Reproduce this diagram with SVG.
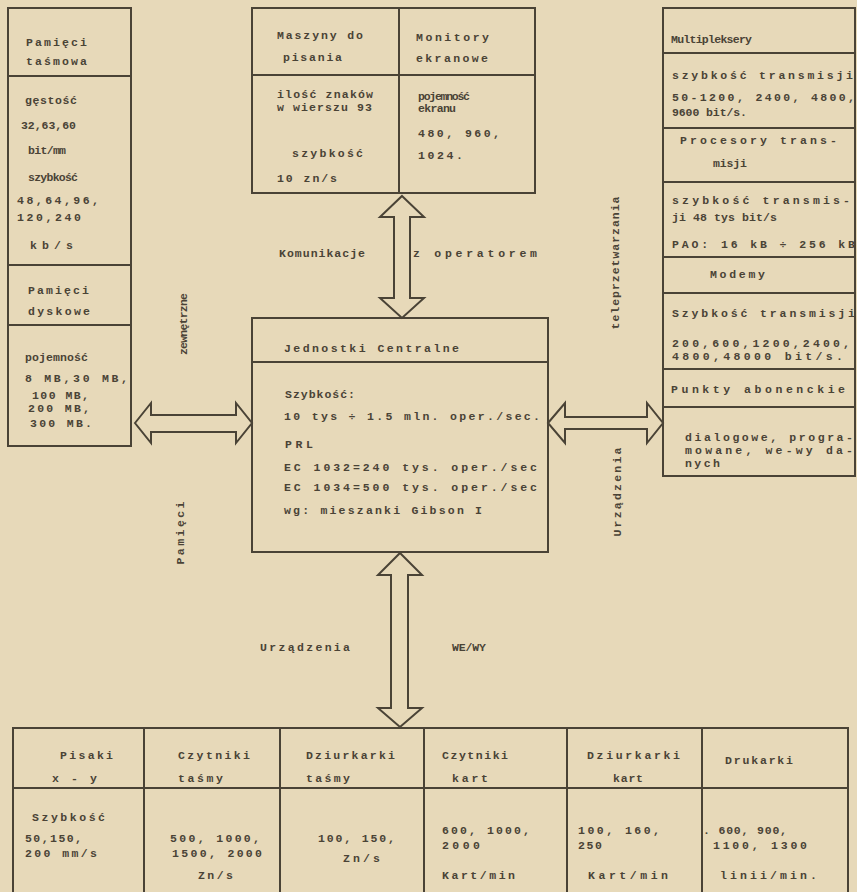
<svg xmlns="http://www.w3.org/2000/svg" width="857" height="892" viewBox="0 0 857 892">
<style>
.bg{fill:#e7d9b9}
.box{fill:none;stroke:#4a4336;stroke-width:2}
.ln{stroke:#4a4336;stroke-width:2;fill:none}
.arr{fill:#e7d9b9;stroke:#4a4336;stroke-width:2;stroke-linejoin:miter}
text{font-family:"Liberation Mono","DejaVu Sans Mono",monospace;font-size:11.5px;font-weight:bold;fill:#4a4336}
</style>
<rect class="bg" x="0" y="0" width="857" height="892"/>

<g id="connectors">
<polygon class="arr" points="135,423 151,403 151,415 236,415 236,403 252,423 236,443 236,432 151,432 151,443"/>
<polygon class="arr" points="548,423 565,403 565,417 647,417 647,403 663,423 647,443 647,429 565,429 565,443"/>
<polygon class="arr" points="402,196 424,217 410,217 410,298 424,298 402,318 380,298 394,298 394,217 380,217"/>
<polygon class="arr" points="400,553 422,575 408,575 408,708 422,708 400,727 378,708 391,708 391,575 378,575"/>
</g>

<g id="pamieci-left">
<rect class="box" x="8" y="8" width="123" height="438"/>
<line class="ln" x1="8" y1="76" x2="131" y2="76"/>
<line class="ln" x1="8" y1="265" x2="131" y2="265"/>
<line class="ln" x1="8" y1="325" x2="131" y2="325"/>
<text x="26" y="46" textLength="61">Pamięci</text>
<text x="26" y="65" textLength="61">taśmowa</text>
<text x="25" y="104" textLength="52">gęstość</text>
<text x="21" y="129" textLength="55">32,63,60</text>
<text x="28" y="154" textLength="38">bit/mm</text>
<text x="28" y="181" textLength="50">szybkość</text>
<text x="17" y="204" textLength="82">48,64,96,</text>
<text x="17" y="221" textLength="64">120,240</text>
<text x="30" y="249" textLength="43">kb/s</text>
<text x="28" y="294" textLength="61">Pamięci</text>
<text x="28" y="315" textLength="62">dyskowe</text>
<text x="25" y="361" textLength="63">pojemność</text>
<text x="25" y="382" textLength="103">8 MB,30 MB,</text>
<text x="32" y="399" textLength="57">100 MB,</text>
<text x="28" y="412" textLength="62">200 MB,</text>
<text x="30" y="427" textLength="62">300 MB.</text>
</g>

<g id="operator-devices">
<rect class="box" x="252" y="8" width="283" height="185"/>
<line class="ln" x1="399" y1="8" x2="399" y2="193"/>
<line class="ln" x1="252" y1="75" x2="535" y2="75"/>
<text x="277" y="39" textLength="86">Maszyny do</text>
<text x="283" y="61" textLength="59">pisania</text>
<text x="416" y="41" textLength="73">Monitory</text>
<text x="416" y="62" textLength="72">ekranowe</text>
<text x="277" y="98" textLength="96">ilość znaków</text>
<text x="277" y="111" textLength="95">w wierszu 93</text>
<text x="292" y="157" textLength="71">szybkość</text>
<text x="277" y="182" textLength="60">10 zn/s</text>
<text x="418" y="100" textLength="52">pojemność</text>
<text x="418" y="112" textLength="38">ekranu</text>
<text x="418" y="137" textLength="82">480, 960,</text>
<text x="418" y="159" textLength="45">1024.</text>
</g>

<g id="labels">
<text x="279" y="257" textLength="86">Komunikacje</text>
<text x="413" y="257" textLength="124">z operatorem</text>
<text x="260" y="651" textLength="90">Urządzenia</text>
<text x="452" y="651" textLength="34">WE/WY</text>
<text transform="translate(187,324) rotate(-90)" text-anchor="middle" textLength="62">zewnętrzne</text>
<text transform="translate(184,533) rotate(-90)" text-anchor="middle" textLength="63">Pamięci</text>
<text transform="translate(619,263) rotate(-90)" text-anchor="middle" textLength="133">teleprzetwarzania</text>
<text transform="translate(621,492) rotate(-90)" text-anchor="middle" textLength="89">Urządzenia</text>
</g>

<g id="central-unit">
<rect class="box" x="252" y="318" width="296" height="234"/>
<line class="ln" x1="252" y1="362" x2="548" y2="362"/>
<text x="284" y="352" textLength="175">Jednostki Centralne</text>
<text x="285" y="398" textLength="70">Szybkość:</text>
<text x="284" y="420" textLength="256">10 tys ÷ 1.5 mln. oper./sec.</text>
<text x="285" y="448" textLength="28">PRL</text>
<text x="284" y="471" textLength="253">EC 1032=240 tys.  oper./sec</text>
<text x="284" y="491" textLength="253">EC 1034=500 tys.  oper./sec</text>
<text x="284" y="514" textLength="198">wg: mieszanki Gibson I</text>
</g>

<g id="teleprocessing">
<rect class="box" x="663" y="8" width="192" height="468"/>
<line class="ln" x1="663" y1="53" x2="855" y2="53"/>
<line class="ln" x1="663" y1="128" x2="855" y2="128"/>
<line class="ln" x1="663" y1="182" x2="855" y2="182"/>
<line class="ln" x1="663" y1="257" x2="855" y2="257"/>
<line class="ln" x1="663" y1="293" x2="855" y2="293"/>
<line class="ln" x1="663" y1="369" x2="855" y2="369"/>
<line class="ln" x1="663" y1="407" x2="855" y2="407"/>
<text x="671" y="43" textLength="81">Multipleksery</text>
<text x="672" y="79" textLength="181">szybkość transmisji</text>
<text x="672" y="101" textLength="183">50-1200, 2400, 4800,</text>
<text x="672" y="116" textLength="75">9600 bit/s.</text>
<text x="680" y="144" textLength="157">Procesory trans-</text>
<text x="713" y="167" textLength="34">misji</text>
<text x="672" y="204" textLength="178">szybkość transmis-</text>
<text x="672" y="221" textLength="105">ji 48 tys bit/s</text>
<text x="672" y="248" textLength="183">PAO: 16 kB ÷ 256 kB</text>
<text x="710" y="278" textLength="55">Modemy</text>
<text x="672" y="317" textLength="183">Szybkość transmisji</text>
<text x="672" y="347" textLength="178">200,600,1200,2400,</text>
<text x="672" y="360" textLength="171">4800,48000 bit/s.</text>
<text x="671" y="393" textLength="174">Punkty abonenckie</text>
<text x="685" y="441" textLength="168">dialogowe, progra-</text>
<text x="685" y="454" textLength="168">mowane, we-wy da-</text>
<text x="685" y="467" textLength="35">nych</text>
</g>

<g id="io-devices">
<polyline class="ln" points="13,892 13,728 848,728 848,892"/>
<line class="ln" x1="13" y1="788" x2="848" y2="788"/>
<line class="ln" x1="144" y1="728" x2="144" y2="892"/>
<line class="ln" x1="280" y1="728" x2="280" y2="892"/>
<line class="ln" x1="424" y1="728" x2="424" y2="892"/>
<line class="ln" x1="567" y1="728" x2="567" y2="892"/>
<line class="ln" x1="702" y1="728" x2="702" y2="892"/>
<text x="60" y="759" textLength="53">Pisaki</text>
<text x="52" y="782" textLength="45">x - y</text>
<text x="32" y="821" textLength="73">Szybkość</text>
<text x="25" y="842" textLength="57">50,150,</text>
<text x="25" y="857" textLength="72">200 mm/s</text>
<text x="178" y="759" textLength="72">Czytniki</text>
<text x="178" y="782" textLength="45">taśmy</text>
<text x="170" y="842" textLength="90">500, 1000,</text>
<text x="172" y="857" textLength="90">1500, 2000</text>
<text x="198" y="879" textLength="35">Zn/s</text>
<text x="306" y="759" textLength="89">Dziurkarki</text>
<text x="306" y="782" textLength="44">taśmy</text>
<text x="318" y="842" textLength="77">100, 150,</text>
<text x="343" y="862" textLength="37">Zn/s</text>
<text x="442" y="759" textLength="66">Czytniki</text>
<text x="452" y="782" textLength="36">kart</text>
<text x="442" y="834" textLength="88">600, 1000,</text>
<text x="442" y="849" textLength="38">2000</text>
<text x="442" y="879" textLength="73">Kart/min</text>
<text x="587" y="759" textLength="93">Dziurkarki</text>
<text x="613" y="782" textLength="30">kart</text>
<text x="578" y="834" textLength="82">100, 160,</text>
<text x="578" y="849" textLength="24">250</text>
<text x="588" y="879" textLength="80">Kart/min</text>
<text x="725" y="764" textLength="68">Drukarki</text>
<text x="703" y="834" textLength="84">. 600, 900,</text>
<text x="713" y="849" textLength="94">1100, 1300</text>
<text x="720" y="879" textLength="97">linii/min.</text>
</g>
</svg>
